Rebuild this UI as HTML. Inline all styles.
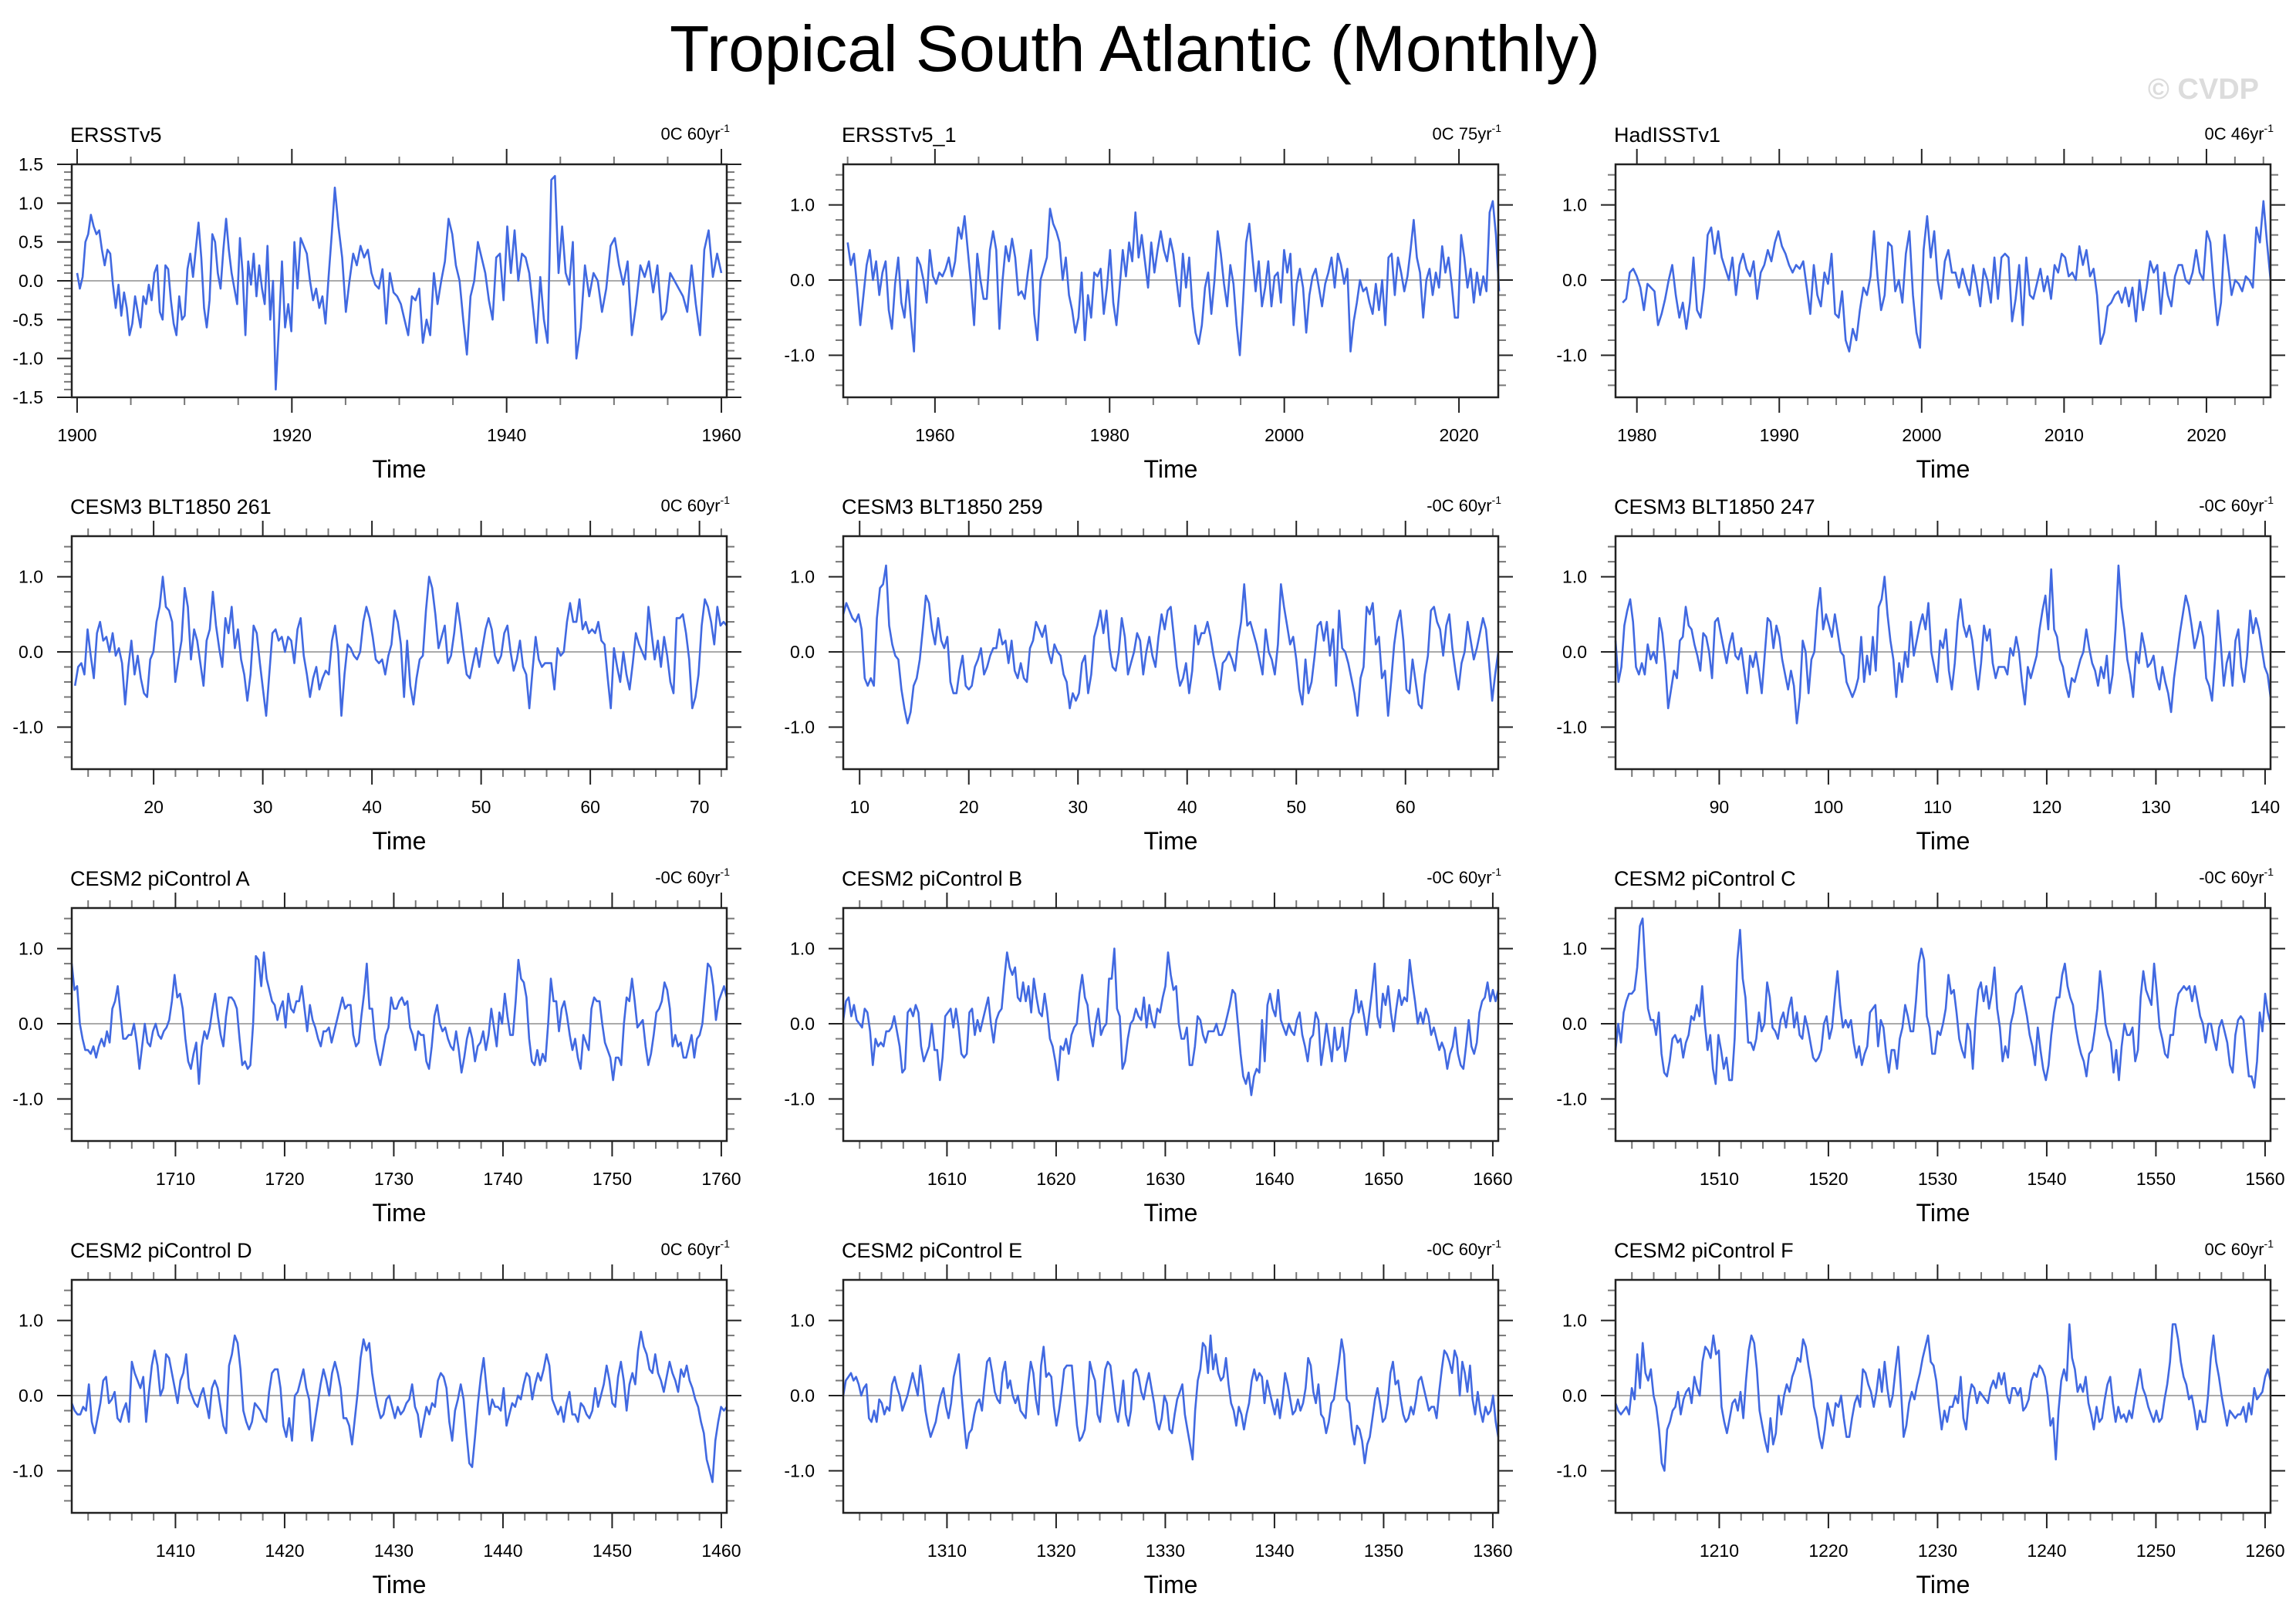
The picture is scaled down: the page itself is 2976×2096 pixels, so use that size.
<!DOCTYPE html>
<html><head><meta charset="utf-8"><title>Tropical South Atlantic (Monthly)</title>
<style>
html,body{margin:0;padding:0;background:#fff;}
svg{display:block;font-family:"Liberation Sans",Arial,sans-serif;}
</style></head>
<body>
<svg id="fig" xmlns="http://www.w3.org/2000/svg" width="2976" height="2096" viewBox="0 0 2976 2096">
<rect width="2976" height="2096" fill="#fff"/>
<text x="1471" y="92" font-size="84" text-anchor="middle" fill="#000">Tropical South Atlantic (Monthly)</text>
<text x="2928" y="128" font-size="38" font-weight="bold" text-anchor="end" fill="#dcdcdc">© CVDP</text>
<g id="panels"></g>
</svg>
<script>
// ---- data ----
const titles=["ERSSTv5","ERSSTv5_1","HadISSTv1","CESM3 BLT1850 261","CESM3 BLT1850 259","CESM3 BLT1850 247","CESM2 piControl A","CESM2 piControl B","CESM2 piControl C","CESM2 piControl D","CESM2 piControl E","CESM2 piControl F"];
const cornerText=["0C 60yr","0C 75yr","0C 46yr","0C 60yr","-0C 60yr","-0C 60yr","-0C 60yr","-0C 60yr","-0C 60yr","0C 60yr","-0C 60yr","0C 60yr"];
const xStart=[1900,1950,1979,12.8,8.5,80.5,1700.5,1600.5,1500.5,1400.5,1300.5,1200.5];
const xEnd=[1960,2024.6,2024.5,72.5,68.5,140.5,1760.5,1660.5,1560.5,1460.5,1360.5,1260.5];
const axisMin=[1899.5,1949.5,1978.5,12.5,8.5,80.5,1700.5,1600.5,1500.5,1400.5,1300.5,1200.5];
const axisMax=[1960.5,2024.5,2024.5,72.5,68.5,140.5,1760.5,1660.5,1560.5,1460.5,1360.5,1260.5];
const xTickLabels=[[1900,1920,1940,1960],[1960,1980,2000,2020],[1980,1990,2000,2010,2020],[20,30,40,50,60,70],[10,20,30,40,50,60],[90,100,110,120,130,140],[1710,1720,1730,1740,1750,1760],[1610,1620,1630,1640,1650,1660],[1510,1520,1530,1540,1550,1560],[1410,1420,1430,1440,1450,1460],[1310,1320,1330,1340,1350,1360],[1210,1220,1230,1240,1250,1260]];
const xMinorStep=[5,5,2,2,2,2,2,2,2,2,2,2];
const yTickLabels1=[-1.5,-1.0,-0.5,0.0,0.5,1.0,1.5];
const yTickLabels=[-1.0,0.0,1.0];
// time anchors for ERSSTv5 (sample index -> year)
const s1KnotIdx=[0,72,91,151,157,191];
const s1KnotYear=[1900,1918.5,1924,1944.5,1946.5,1960];

const s1=[0.1,-0.1,0.05,0.5,0.6,0.85,0.7,0.6,0.65,0.4,0.2,0.4,0.35,-0.05,-0.35,-0.05,-0.45,-0.15,-0.35,-0.7,-0.55,-0.2,-0.4,-0.6,-0.2,-0.3,-0.05,-0.25,0.1,0.2,-0.4,-0.5,0.2,0.15,-0.25,-0.55,-0.7,-0.2,-0.5,-0.45,0.15,0.35,0.05,0.4,0.75,0.3,-0.35,-0.6,-0.25,0.6,0.5,0.1,-0.1,0.4,0.8,0.4,0.1,-0.1,-0.3,0.55,0.1,-0.7,0.25,-0.05,0.35,-0.2,0.2,-0.1,-0.3,0.45,-0.5,0.0,-1.4,-0.6,0.25,-0.6,-0.3,-0.65,0.5,-0.1,0.55,0.45,0.35,0.0,-0.25,-0.1,-0.35,-0.2,-0.55,0.05,0.6,1.2,0.7,0.3,-0.4,0.0,0.35,0.2,0.45,0.3,0.4,0.1,-0.05,-0.1,0.15,-0.55,0.1,-0.15,-0.2,-0.3,-0.5,-0.7,-0.2,-0.25,-0.1,-0.8,-0.5,-0.7,0.1,-0.3,0.0,0.25,0.8,0.6,0.2,0.0,-0.5,-0.95,-0.2,0.0,0.5,0.3,0.1,-0.25,-0.5,0.3,0.35,-0.25,0.7,0.1,0.65,0.0,0.35,0.3,0.1,-0.35,-0.8,0.05,-0.5,-0.8,1.3,1.35,0.1,0.7,0.1,-0.05,0.5,-1.0,-0.6,0.2,-0.2,0.1,0.0,-0.4,-0.1,0.45,0.55,0.2,-0.05,0.25,-0.7,-0.3,0.2,0.05,0.25,-0.15,0.2,-0.5,-0.4,0.1,0.0,-0.1,-0.2,-0.4,0.2,-0.3,-0.7,0.4,0.65,0.05,0.35,0.1];
const s2=[0.5,0.2,0.35,-0.1,-0.6,-0.2,0.2,0.4,0.0,0.25,-0.2,0.1,0.25,-0.4,-0.65,-0.05,0.3,-0.3,-0.5,0.0,-0.5,-0.95,0.3,0.2,0.0,-0.3,0.4,0.05,-0.05,0.1,0.05,0.15,0.3,0.05,0.25,0.7,0.55,0.85,0.4,-0.05,-0.6,0.35,0.0,-0.25,-0.25,0.4,0.65,0.4,-0.65,0.0,0.45,0.25,0.55,0.3,-0.2,-0.15,-0.25,0.1,0.4,-0.45,-0.8,0.0,0.15,0.3,0.95,0.75,0.65,0.5,0.0,0.3,-0.2,-0.4,-0.7,-0.5,0.1,-0.8,-0.2,-0.5,0.1,0.05,0.15,-0.45,-0.1,0.4,-0.3,-0.6,-0.1,0.4,0.05,0.5,0.25,0.9,0.3,0.6,0.25,-0.1,0.5,0.1,0.4,0.65,0.4,0.25,0.55,0.35,0.0,-0.35,0.35,-0.1,0.3,-0.35,-0.7,-0.85,-0.6,-0.1,0.1,-0.45,0.0,0.65,0.35,-0.05,-0.35,0.2,-0.05,-0.6,-1.0,-0.3,0.5,0.75,0.3,-0.15,0.25,-0.35,-0.1,0.25,-0.35,0.05,0.1,-0.3,0.4,0.1,0.35,-0.6,-0.05,0.15,-0.1,-0.7,-0.2,0.05,0.15,-0.1,-0.35,-0.05,0.1,0.3,-0.1,0.35,0.2,-0.05,0.15,-0.95,-0.55,-0.3,0.0,-0.15,-0.1,-0.3,-0.45,-0.05,-0.4,0.0,-0.6,0.3,0.35,-0.2,0.3,0.1,-0.15,0.05,0.4,0.8,0.3,0.1,-0.5,0.0,0.15,-0.2,0.1,-0.1,0.45,0.1,0.3,-0.05,-0.5,-0.5,0.6,0.3,-0.1,0.15,-0.3,0.1,-0.2,0.05,-0.15,0.9,1.05,0.6,-0.15];
const s3=[-0.3,-0.25,0.1,0.15,0.05,-0.1,-0.4,-0.05,-0.1,-0.15,-0.6,-0.45,-0.25,0.0,0.2,-0.2,-0.5,-0.3,-0.65,-0.3,0.3,-0.4,-0.5,-0.1,0.6,0.7,0.35,0.65,0.3,0.15,0.0,0.3,-0.2,0.2,0.35,0.15,0.05,0.25,-0.25,0.1,0.2,0.4,0.25,0.5,0.65,0.45,0.35,0.2,0.1,0.2,0.15,0.25,-0.1,-0.45,0.2,-0.2,-0.35,0.1,-0.05,0.35,-0.45,-0.5,-0.15,-0.8,-0.95,-0.65,-0.8,-0.4,-0.1,-0.2,0.05,0.65,0.05,-0.4,-0.2,0.5,0.45,-0.15,0.0,-0.3,0.35,0.65,-0.2,-0.7,-0.9,0.4,0.85,0.3,0.65,0.0,-0.25,0.25,0.4,0.1,0.1,-0.1,0.15,-0.05,-0.2,0.2,-0.05,-0.35,0.15,0.0,-0.3,0.3,-0.25,0.3,0.35,0.3,-0.55,-0.25,0.2,-0.6,0.3,-0.2,-0.25,-0.05,0.15,-0.15,0.05,-0.25,0.2,0.1,0.35,0.3,0.05,0.1,0.0,0.45,0.2,0.4,0.05,0.15,-0.2,-0.85,-0.7,-0.35,-0.3,-0.2,-0.15,-0.3,-0.1,-0.35,-0.1,-0.55,0.0,-0.4,-0.1,0.25,0.1,0.2,-0.45,0.1,-0.2,-0.35,0.05,0.2,0.2,0.0,-0.05,0.1,0.4,0.1,0.0,0.65,0.5,-0.1,-0.6,-0.3,0.6,0.2,-0.2,0.0,-0.05,-0.15,0.05,0.0,-0.1,0.7,0.5,1.05,0.5,0.0];
const s4=[-0.45,-0.2,-0.15,-0.3,0.3,-0.05,-0.35,0.25,0.4,0.15,0.2,0.0,0.25,-0.05,0.05,-0.15,-0.7,-0.2,0.15,-0.3,-0.05,-0.35,-0.55,-0.6,-0.1,0.0,0.4,0.6,1.0,0.6,0.55,0.4,-0.4,-0.1,0.15,0.85,0.6,-0.1,0.3,0.15,-0.15,-0.45,0.15,0.3,0.8,0.35,0.05,-0.2,0.45,0.25,0.6,0.05,0.3,-0.1,-0.3,-0.65,-0.3,0.35,0.25,-0.15,-0.5,-0.85,-0.3,0.25,0.3,0.15,0.2,0.0,0.2,0.15,-0.15,0.3,0.45,-0.05,-0.3,-0.6,-0.35,-0.2,-0.5,-0.35,-0.25,-0.3,0.15,0.35,0.0,-0.85,-0.3,0.1,0.05,-0.05,-0.1,0.0,0.4,0.6,0.45,0.2,-0.1,-0.15,-0.1,-0.3,-0.05,0.1,0.55,0.4,0.1,-0.6,0.15,-0.45,-0.7,-0.35,-0.1,-0.05,0.55,1.0,0.85,0.5,0.05,0.2,0.35,-0.15,-0.05,0.25,0.65,0.35,0.0,-0.3,-0.35,-0.15,0.05,-0.2,0.05,0.3,0.45,0.3,-0.05,-0.15,-0.05,0.25,0.35,0.0,-0.25,-0.1,0.15,-0.2,-0.3,-0.75,-0.25,0.2,-0.1,-0.2,-0.15,-0.15,-0.15,-0.5,0.05,-0.05,0.0,0.4,0.65,0.4,0.4,0.7,0.3,0.4,0.25,0.3,0.25,0.4,0.15,0.1,-0.35,-0.75,0.05,-0.2,-0.4,0.0,-0.3,-0.5,-0.15,0.25,0.1,0.0,-0.1,0.6,0.25,-0.1,0.15,-0.2,0.2,-0.05,-0.4,-0.55,0.45,0.45,0.5,0.25,-0.1,-0.75,-0.6,-0.3,0.35,0.7,0.6,0.4,0.1,0.6,0.35,0.4,0.35];
const s5=[0.5,0.65,0.55,0.45,0.4,0.5,0.3,-0.35,-0.45,-0.35,-0.45,0.45,0.85,0.9,1.15,0.35,0.1,-0.05,-0.1,-0.5,-0.75,-0.95,-0.8,-0.45,-0.35,-0.1,0.3,0.75,0.65,0.3,0.1,0.45,0.15,0.05,0.2,-0.4,-0.55,-0.55,-0.25,-0.05,-0.45,-0.5,-0.45,-0.2,-0.1,0.05,-0.3,-0.2,-0.05,0.05,0.05,0.3,0.1,0.15,-0.15,0.15,-0.25,-0.35,-0.15,-0.35,-0.4,0.05,0.15,0.4,0.3,0.2,0.35,0.0,-0.15,0.1,0.0,-0.05,-0.3,-0.4,-0.75,-0.55,-0.65,-0.55,-0.15,-0.05,-0.55,-0.3,0.2,0.35,0.55,0.25,0.55,0.05,-0.2,-0.25,0.0,0.45,0.2,-0.3,-0.15,0.0,0.25,0.15,-0.3,0.0,0.2,-0.05,-0.2,0.2,0.5,0.3,0.55,0.6,0.2,-0.2,-0.45,-0.35,-0.15,-0.55,-0.25,0.35,0.1,0.25,0.25,0.4,0.2,-0.05,-0.25,-0.5,-0.15,-0.1,0.0,-0.1,-0.25,0.15,0.4,0.9,0.35,0.4,0.25,0.1,-0.1,-0.3,0.3,0.0,-0.1,-0.3,0.1,0.9,0.6,0.35,0.1,0.2,-0.1,-0.5,-0.7,-0.1,-0.55,-0.4,-0.05,0.35,0.4,0.15,0.4,-0.05,0.3,-0.45,0.55,0.05,0.0,-0.15,-0.35,-0.55,-0.85,-0.35,-0.2,0.6,0.5,0.65,0.1,0.2,-0.35,-0.25,-0.85,-0.4,0.1,0.4,0.55,0.15,-0.5,-0.55,-0.1,-0.4,-0.7,-0.75,-0.3,-0.05,0.55,0.6,0.4,0.3,-0.05,0.35,0.5,0.05,-0.25,-0.5,-0.15,0.0,0.4,0.15,-0.1,0.05,0.25,0.45,0.3,-0.15,-0.65,-0.3,0.0];
const s6=[0.15,-0.4,-0.2,0.35,0.55,0.7,0.4,-0.2,-0.3,-0.15,-0.3,0.1,-0.1,0.0,-0.15,0.45,0.25,-0.15,-0.75,-0.5,-0.25,-0.35,0.15,0.2,0.6,0.35,0.3,0.1,-0.05,-0.25,0.25,0.2,0.0,-0.35,0.4,0.45,0.25,0.05,-0.15,0.1,0.25,-0.05,-0.1,0.05,-0.25,-0.55,-0.05,-0.2,0.0,-0.25,-0.55,-0.05,0.45,0.4,0.05,0.35,0.2,-0.1,-0.3,-0.5,-0.25,-0.45,-0.95,-0.6,0.15,0.0,-0.55,-0.1,0.0,0.55,0.85,0.3,0.5,0.35,0.2,0.5,0.25,0.0,-0.05,-0.4,-0.5,-0.6,-0.5,-0.35,0.2,-0.4,-0.05,-0.3,0.2,-0.25,0.6,0.7,1.0,0.5,0.15,-0.1,-0.6,-0.15,-0.4,0.0,-0.2,0.4,-0.05,0.15,0.35,0.5,0.3,0.65,0.0,-0.2,-0.4,0.15,0.05,0.3,-0.25,-0.5,-0.15,0.4,0.7,0.35,0.2,0.35,0.15,-0.2,-0.5,-0.15,0.35,0.15,0.3,-0.15,-0.35,-0.2,-0.2,-0.2,-0.3,0.05,-0.05,0.2,0.0,-0.4,-0.7,-0.2,-0.35,-0.2,-0.05,0.3,0.55,0.75,0.3,1.1,0.3,0.2,-0.1,-0.2,-0.45,-0.6,-0.35,-0.4,-0.25,-0.1,0.0,0.3,0.05,-0.15,-0.25,-0.45,-0.2,-0.35,-0.05,-0.55,-0.3,0.3,1.15,0.6,0.3,-0.1,-0.3,-0.6,0.0,-0.15,0.25,0.05,-0.2,-0.15,-0.05,-0.35,-0.5,-0.2,-0.4,-0.55,-0.8,-0.35,-0.05,0.25,0.5,0.75,0.6,0.35,0.05,0.2,0.4,0.2,-0.35,-0.45,-0.65,-0.1,0.55,0.1,-0.45,-0.15,0.0,-0.45,0.15,0.3,-0.2,-0.4,-0.05,0.55,0.25,0.45,0.3,0.05,-0.2,-0.3,-0.6];
const s7=[0.8,0.45,0.5,0.0,-0.2,-0.35,-0.35,-0.4,-0.3,-0.45,-0.3,-0.2,-0.3,-0.1,-0.25,0.2,0.3,0.5,0.15,-0.2,-0.2,-0.15,-0.15,0.0,-0.25,-0.6,-0.3,0.0,-0.25,-0.3,-0.1,0.0,-0.15,-0.2,-0.1,-0.05,0.05,0.3,0.65,0.35,0.4,0.2,-0.2,-0.5,-0.6,-0.4,-0.25,-0.8,-0.3,-0.1,-0.2,-0.05,0.2,0.4,0.1,-0.15,-0.3,0.1,0.35,0.35,0.3,0.2,-0.2,-0.55,-0.5,-0.6,-0.55,0.0,0.9,0.85,0.5,0.95,0.6,0.45,0.3,0.25,0.05,0.2,0.3,-0.05,0.4,0.2,0.15,0.3,0.3,0.5,0.2,-0.1,0.25,0.05,-0.05,-0.2,-0.3,-0.1,-0.1,-0.05,-0.25,-0.1,0.05,0.2,0.35,0.2,0.25,0.25,-0.15,-0.3,-0.25,0.1,0.4,0.8,0.2,0.2,-0.2,-0.4,-0.55,-0.35,-0.15,-0.05,0.35,0.2,0.2,0.3,0.35,0.25,0.3,-0.05,-0.15,-0.35,-0.1,-0.15,-0.15,-0.5,-0.6,-0.3,0.1,0.25,0.0,-0.1,-0.05,-0.2,-0.3,-0.35,-0.1,-0.35,-0.65,-0.45,-0.2,-0.05,-0.2,-0.5,-0.3,-0.25,-0.1,-0.35,-0.15,0.2,-0.05,-0.3,0.15,0.0,0.4,0.1,-0.15,-0.15,0.3,0.85,0.6,0.55,0.35,-0.2,-0.5,-0.55,-0.35,-0.55,-0.4,-0.5,0.0,0.6,0.3,0.3,-0.1,0.2,0.3,0.1,-0.15,-0.35,-0.2,-0.45,-0.6,-0.15,-0.25,-0.35,0.2,0.35,0.3,0.3,0.0,-0.25,-0.35,-0.45,-0.75,-0.45,-0.45,-0.55,0.0,0.35,0.3,0.6,0.3,-0.05,0.0,0.05,-0.3,-0.55,-0.4,-0.15,0.15,0.2,0.3,0.55,0.45,0.2,-0.3,-0.15,-0.3,-0.25,-0.45,-0.45,-0.3,-0.15,-0.45,-0.2,-0.15,0.0,0.4,0.8,0.75,0.5,0.05,0.3,0.4,0.5,0.35];
const s8=[0.05,0.3,0.35,0.1,0.25,0.05,0.0,-0.05,0.2,0.15,-0.1,-0.55,-0.2,-0.3,-0.25,-0.3,-0.1,-0.1,-0.05,0.1,-0.1,-0.3,-0.65,-0.6,0.15,0.2,0.1,0.25,0.15,-0.3,-0.5,-0.4,-0.3,0.0,-0.35,-0.35,-0.75,-0.45,0.1,0.15,0.2,-0.05,0.2,-0.05,-0.4,-0.45,-0.4,0.15,0.2,-0.15,0.05,-0.1,0.05,0.2,0.35,0.0,-0.25,0.05,0.15,0.2,0.6,0.95,0.75,0.65,0.75,0.35,0.3,0.55,0.3,0.5,0.15,0.6,0.35,0.15,0.1,0.4,0.15,-0.2,-0.3,-0.5,-0.75,-0.3,-0.35,-0.2,-0.4,-0.15,-0.05,0.0,0.4,0.65,0.35,0.25,-0.1,-0.3,0.0,0.2,-0.15,-0.05,0.0,0.6,0.6,1.0,0.2,0.1,-0.6,-0.5,-0.2,0.0,0.05,0.2,0.1,0.05,0.35,-0.05,0.25,0.05,-0.05,0.2,0.15,0.35,0.5,0.95,0.65,0.45,0.5,0.0,-0.2,-0.2,-0.05,-0.55,-0.55,-0.3,0.1,0.05,-0.15,-0.25,-0.1,-0.1,-0.1,0.0,-0.15,-0.15,-0.05,0.1,0.25,0.45,0.4,0.0,-0.4,-0.7,-0.8,-0.65,-0.95,-0.7,-0.6,-0.65,0.05,-0.5,0.25,0.4,0.2,0.1,0.45,0.05,-0.05,-0.15,0.0,-0.1,-0.15,0.05,0.15,-0.15,-0.3,-0.5,-0.2,-0.15,0.15,0.05,-0.55,-0.3,0.0,-0.25,-0.5,-0.05,-0.35,-0.3,-0.05,-0.5,-0.3,0.05,0.15,0.45,0.15,0.3,0.1,-0.15,0.15,0.45,0.8,0.1,-0.05,0.4,0.25,0.5,0.15,-0.1,0.2,0.45,0.25,0.35,0.3,0.85,0.55,0.3,0.0,0.15,0.0,0.2,0.1,-0.15,-0.05,-0.2,-0.35,-0.25,-0.35,-0.6,-0.4,-0.3,-0.05,-0.4,-0.55,-0.6,-0.3,0.05,-0.3,-0.4,-0.25,0.15,0.3,0.35,0.55,0.3,0.45,0.3,0.45];
const s9=[-0.35,0.0,-0.25,0.15,0.3,0.4,0.4,0.45,0.75,1.3,1.4,0.75,0.2,0.05,0.05,-0.15,0.15,-0.4,-0.65,-0.7,-0.5,-0.2,-0.15,-0.25,-0.2,-0.45,-0.25,-0.15,0.1,0.05,0.25,0.1,0.5,0.0,-0.35,-0.15,-0.6,-0.8,-0.15,-0.35,-0.6,-0.45,-0.75,-0.75,-0.2,0.85,1.25,0.6,0.35,-0.25,-0.25,-0.35,-0.2,0.15,-0.1,0.0,0.55,0.35,-0.05,-0.1,-0.2,0.05,0.15,-0.05,0.2,0.35,-0.05,0.15,-0.15,-0.2,0.1,-0.05,-0.25,-0.45,-0.5,-0.45,-0.35,0.0,0.1,-0.2,-0.05,0.35,0.7,0.25,-0.05,0.05,-0.05,0.05,-0.25,-0.45,-0.3,-0.55,-0.4,-0.3,0.15,0.2,0.25,-0.3,0.05,-0.05,-0.4,-0.65,-0.35,-0.35,-0.6,-0.2,-0.05,0.25,0.1,-0.1,-0.1,0.3,0.8,1.0,0.85,0.1,-0.05,-0.4,-0.4,-0.1,-0.15,0.0,0.2,0.65,0.4,0.45,0.15,-0.2,-0.35,-0.45,0.0,-0.1,-0.6,0.05,0.45,0.55,0.3,0.5,0.2,0.4,0.75,0.2,-0.05,-0.5,-0.3,-0.45,0.0,0.15,0.4,0.45,0.5,0.3,0.1,-0.15,-0.3,-0.55,-0.05,-0.35,-0.6,-0.75,-0.55,-0.15,0.15,0.35,0.35,0.65,0.8,0.5,0.35,0.25,-0.05,-0.25,-0.4,-0.5,-0.7,-0.4,-0.35,-0.1,0.2,0.7,0.4,0.0,-0.15,-0.25,-0.65,-0.35,-0.75,-0.3,0.0,-0.15,-0.15,-0.05,-0.5,-0.35,0.35,0.7,0.45,0.35,0.25,0.8,0.4,-0.05,-0.2,-0.4,-0.45,-0.15,-0.15,0.2,0.4,0.45,0.5,0.45,0.5,0.3,0.5,0.3,0.1,0.0,-0.25,0.0,0.0,-0.2,-0.35,-0.05,0.05,-0.1,-0.25,-0.55,-0.65,-0.15,0.05,0.1,0.05,-0.35,-0.7,-0.7,-0.85,-0.5,0.15,-0.1,0.4,0.15,0.0];
const s10=[-0.1,-0.2,-0.25,-0.25,-0.15,-0.2,0.15,-0.35,-0.5,-0.3,-0.1,0.2,0.25,-0.1,-0.05,0.05,-0.3,-0.35,-0.2,-0.1,-0.35,0.45,0.3,0.2,0.1,0.25,-0.35,0.05,0.4,0.6,0.4,0.0,0.1,0.55,0.5,0.3,0.1,-0.1,0.2,0.3,0.55,0.1,0.0,-0.1,-0.15,0.0,0.1,-0.1,-0.3,0.1,0.2,0.1,-0.15,-0.4,-0.5,0.4,0.55,0.8,0.7,0.35,-0.2,-0.35,-0.45,-0.35,-0.1,-0.15,-0.2,-0.3,-0.35,0.05,0.3,0.35,0.35,0.1,-0.4,-0.55,-0.3,-0.6,0.0,0.05,0.2,0.35,0.1,-0.05,-0.6,-0.35,-0.1,0.15,0.35,0.2,0.0,0.3,0.45,0.3,0.1,-0.3,-0.3,-0.4,-0.65,-0.3,0.05,0.5,0.75,0.6,0.7,0.3,0.05,-0.15,-0.3,-0.25,-0.05,0.0,-0.15,-0.3,-0.15,-0.25,-0.2,-0.1,-0.05,0.15,-0.15,-0.25,-0.55,-0.35,-0.15,-0.25,-0.1,-0.15,0.2,0.3,0.25,0.1,-0.35,-0.6,-0.2,-0.05,0.15,-0.05,-0.5,-0.9,-0.95,-0.55,-0.1,0.25,0.5,0.1,-0.25,-0.05,-0.15,-0.15,-0.2,0.1,-0.4,-0.25,-0.1,-0.15,0.0,-0.05,0.15,0.3,0.25,-0.05,0.15,0.3,0.2,0.35,0.55,0.4,-0.05,-0.15,-0.25,-0.15,-0.35,-0.1,0.05,-0.25,-0.25,-0.35,-0.1,-0.15,-0.25,-0.3,-0.2,0.1,-0.15,0.0,0.15,0.4,0.2,-0.1,-0.15,0.25,0.45,0.2,-0.2,0.15,0.3,0.15,0.6,0.85,0.65,0.55,0.35,0.3,0.55,0.3,0.2,0.05,0.25,0.45,0.3,0.2,0.05,0.35,0.25,0.4,0.2,0.1,-0.05,-0.15,-0.35,-0.5,-0.85,-1.0,-1.15,-0.6,-0.35,-0.15,-0.2,-0.15];
const s11=[0.0,0.2,0.25,0.3,0.2,0.25,0.15,0.0,0.1,0.15,-0.3,-0.35,-0.2,-0.35,-0.05,-0.1,-0.25,-0.15,-0.2,0.15,0.25,0.1,0.0,-0.2,-0.1,0.0,0.15,0.3,0.15,0.0,0.4,0.15,-0.2,-0.4,-0.55,-0.45,-0.35,-0.15,0.0,0.1,-0.15,-0.3,-0.1,0.25,0.4,0.55,0.05,-0.35,-0.7,-0.5,-0.45,-0.25,-0.1,-0.05,-0.2,0.15,0.45,0.5,0.3,0.05,-0.05,-0.1,0.3,0.45,0.1,0.2,0.0,-0.1,0.0,-0.2,-0.25,-0.3,0.15,0.45,0.3,-0.05,-0.25,0.4,0.65,0.25,0.3,0.25,-0.15,-0.4,-0.2,0.05,0.35,0.4,0.4,0.4,0.0,-0.4,-0.6,-0.55,-0.45,-0.1,0.45,0.3,0.2,-0.25,-0.35,0.0,0.35,0.45,0.4,0.1,-0.2,-0.35,-0.1,0.2,-0.25,-0.4,-0.2,0.3,0.35,0.25,0.05,-0.05,0.15,0.3,0.1,-0.1,-0.35,-0.45,-0.3,0.0,-0.1,-0.45,-0.5,-0.25,-0.05,0.05,0.15,-0.25,-0.45,-0.65,-0.85,-0.2,0.2,0.35,0.7,0.65,0.3,0.8,0.35,0.55,0.3,0.2,0.25,0.5,0.15,-0.1,-0.2,-0.4,-0.15,-0.25,-0.45,-0.25,-0.1,0.2,0.35,0.2,0.3,0.25,-0.1,0.2,0.05,-0.1,-0.25,-0.05,-0.3,-0.05,0.3,0.15,-0.05,-0.25,-0.2,-0.05,-0.2,-0.1,0.1,0.5,0.4,0.05,-0.1,0.15,-0.25,-0.3,-0.5,-0.35,-0.1,-0.05,0.2,0.45,0.75,0.55,-0.05,-0.1,-0.45,-0.65,-0.4,-0.45,-0.6,-0.9,-0.65,-0.55,-0.3,-0.05,0.1,-0.1,-0.35,-0.3,-0.1,0.3,0.45,0.15,0.2,-0.05,-0.25,-0.35,-0.3,-0.15,-0.25,-0.05,0.2,0.25,0.1,-0.05,-0.2,-0.15,-0.15,-0.3,0.05,0.35,0.6,0.55,0.45,0.3,0.6,0.5,0.0,0.45,0.3,0.05,0.4,-0.05,-0.25,0.05,-0.2,-0.35,-0.15,-0.25,-0.2,0.0,-0.35,-0.55];
const s12=[-0.1,-0.2,-0.25,-0.2,-0.15,-0.25,0.1,-0.05,0.55,0.1,0.7,0.3,0.2,0.35,0.0,-0.15,-0.45,-0.9,-1.0,-0.45,-0.35,-0.2,-0.15,0.05,-0.25,-0.05,0.05,0.1,-0.1,0.25,0.1,0.0,0.45,0.65,0.6,0.5,0.8,0.55,0.6,-0.15,-0.35,-0.5,-0.3,-0.1,-0.05,-0.2,0.05,-0.3,0.2,0.6,0.8,0.7,0.35,-0.2,-0.4,-0.6,-0.75,-0.3,-0.65,-0.5,0.0,-0.25,0.0,0.15,0.05,0.25,0.35,0.5,0.45,0.75,0.65,0.4,0.2,-0.15,-0.3,-0.55,-0.7,-0.45,-0.1,-0.25,-0.4,-0.1,-0.15,0.0,-0.3,-0.55,-0.55,-0.3,-0.1,0.0,-0.15,0.35,0.3,0.15,0.05,-0.15,0.05,0.35,0.05,0.45,0.1,-0.15,0.0,0.35,0.65,0.1,-0.55,-0.4,-0.1,0.05,-0.05,0.15,0.3,0.5,0.65,0.8,0.45,0.4,0.2,-0.15,-0.45,-0.2,-0.35,-0.15,-0.15,0.0,-0.1,0.25,-0.3,-0.45,-0.05,0.15,0.1,-0.1,0.05,0.0,-0.05,-0.1,0.1,0.2,0.1,0.3,0.15,0.3,0.0,-0.1,0.1,0.1,0.0,0.1,-0.2,-0.15,-0.05,0.2,0.3,0.25,0.4,0.35,0.25,0.0,-0.4,-0.3,-0.85,-0.2,0.2,0.35,0.2,0.95,0.5,0.35,0.05,0.15,0.05,0.25,-0.1,-0.25,-0.45,-0.15,-0.35,-0.3,-0.05,0.15,0.25,-0.1,-0.35,-0.15,-0.3,-0.25,-0.35,-0.2,-0.3,-0.05,0.15,0.35,0.1,0.0,-0.15,-0.25,-0.35,-0.2,-0.35,-0.3,-0.05,0.15,0.45,0.95,0.95,0.75,0.45,0.25,0.15,-0.05,0.0,-0.2,-0.45,-0.2,-0.35,-0.35,0.0,0.5,0.8,0.45,0.25,0.0,-0.2,-0.4,-0.2,-0.25,-0.3,-0.25,-0.25,-0.15,-0.35,-0.1,-0.25,0.1,-0.05,0.0,0.05,0.25,0.35,0.2];
const series=[s1,s2,s3,s4,s5,s6,s7,s8,s9,s10,s11,s12];

// ---- layout ----
const NS="http://www.w3.org/2000/svg";
const PW=849, PH=302;
const colX=[93,1093,2094];
const rowY=[213,695,1177,1659];
const root=document.getElementById('panels');
function mk(tag,attrs,parent){const e=document.createElementNS(NS,tag);for(const k in attrs)e.setAttribute(k,attrs[k]);(parent||root).appendChild(e);return e;}
function timeOf(p,i,n){
  if(p===0){
    for(let k=0;k<s1KnotIdx.length-1;k++){
      if(i<=s1KnotIdx[k+1]){
        const f=(i-s1KnotIdx[k])/(s1KnotIdx[k+1]-s1KnotIdx[k]);
        return s1KnotYear[k]+f*(s1KnotYear[k+1]-s1KnotYear[k]);
      }
    }
    return s1KnotYear[s1KnotYear.length-1];
  }
  return xStart[p]+i*(xEnd[p]-xStart[p])/(n-1);
}

for(let p=0;p<12;p++){
  const L=colX[p%3], T=rowY[Math.floor(p/3)];
  const y0=(p===0)?-1.5:-1.56, y1=(p===0)?1.5:1.54;
  const xa=axisMin[p], xb=axisMax[p];
  const X=v=>L+(v-xa)/(xb-xa)*PW;
  const Y=v=>T+(y1-v)/(y1-y0)*PH;
  const g=mk('g',{});
  
  
  const t=mk('text',{x:L-2,y:T-29,'font-size':27,fill:'#000'},g);
  
  
  t.textContent=titles[p];
  const c=mk('text',{x:L+PW+4,y:T-32,'font-size':22,'text-anchor':'end',fill:'#000'},g);
  
  
  c.textContent=cornerText[p];
  const sup=mk('tspan',{'font-size':14,dy:-10},c);
  sup.textContent='-1';
  const tk=mk('g',{},g);
  
  
  const ys=(p===0)?0.1:0.2;
  for(let v=Math.ceil(y0/ys-1e-6)*ys; v<=y1+1e-6; v+=ys){
    const vv=Math.round(v*100)/100;
    const isMaj=(p===0)?(Math.abs(vv*2-Math.round(vv*2))<1e-6):(Math.abs(vv-Math.round(vv))<1e-6);
    const len=isMaj?19:10, col=isMaj?'#222':'#777';
    mk('line',{x1:L-len,x2:L,y1:Y(vv),y2:Y(vv),stroke:col,'stroke-width':2},tk);
    mk('line',{x1:L+PW,x2:L+PW+len,y1:Y(vv),y2:Y(vv),stroke:col,'stroke-width':2},tk);
  }
  const xs=xMinorStep[p];
  const maj=xTickLabels[p][1]-xTickLabels[p][0];
  for(let v=Math.ceil(xa/xs)*xs; v<=xb+1e-6; v+=xs){
    const isMaj=Math.abs((v-xTickLabels[p][0])/maj-Math.round((v-xTickLabels[p][0])/maj))<1e-6;
    const len=isMaj?20:10, col=isMaj?'#222':'#777';
    mk('line',{x1:X(v),x2:X(v),y1:T-len,y2:T,stroke:col,'stroke-width':2},tk);
    mk('line',{x1:X(v),x2:X(v),y1:T+PH,y2:T+PH+len,stroke:col,'stroke-width':2},tk);
  }
  const yl=(p===0)?yTickLabels1:yTickLabels;
  yl.forEach(v=>{
    const e=mk('text',{x:L-37,y:Y(v)+8,'font-size':23,'text-anchor':'end',fill:'#000'},g);
    
    
    e.textContent=v.toFixed(1);
  });
  xTickLabels[p].forEach(v=>{
    const e=mk('text',{x:X(v),y:T+PH+57,'font-size':23,'text-anchor':'middle',fill:'#000'},g);
    
    
    e.textContent=String(v);
  });
  const xt=mk('text',{x:L+PW/2,y:T+PH+104,'font-size':32,'text-anchor':'middle',fill:'#000'},g);
  
  
  xt.textContent='Time';
  const z=mk('line',{x1:L,x2:L+PW,y1:Y(0),y2:Y(0),stroke:'#aaa','stroke-width':2},g);
  
  
  const d=series[p], n=d.length;
  let path='';
  for(let i=0;i<n;i++){
    const tv=timeOf(p,i,n);
    path+=(i?'L':'M')+X(tv).toFixed(1)+' '+Y(d[i]).toFixed(1);
  }
  const ln=mk('path',{d:path,fill:'none',stroke:'#4169e1','stroke-width':2.6,'stroke-linejoin':'round'},g);
  
  
  const fr=mk('rect',{x:L,y:T,width:PW,height:PH,fill:'none',stroke:'#222','stroke-width':2.5},g);
  
  
}
</script>
</body></html>
